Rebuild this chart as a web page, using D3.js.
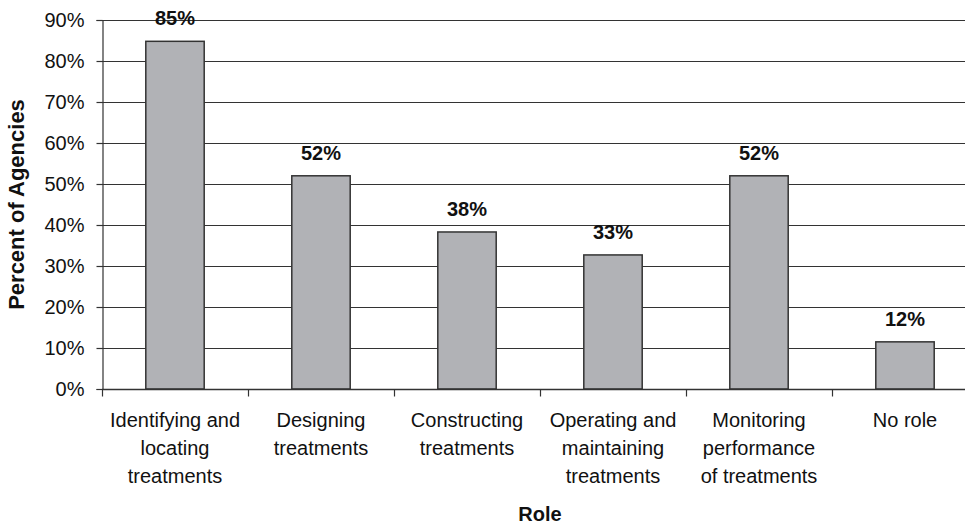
<!DOCTYPE html>
<html><head><meta charset="utf-8">
<script src="https://cdn.jsdelivr.net/npm/d3@7"></script>
<style>body{margin:0;background:#fff}svg{display:block;font-family:"Liberation Sans",Arial,sans-serif}</style>
</head><body><svg id="c" width="965" height="525"></svg>
<script>
const categories = [["Identifying and","locating","treatments"],["Designing","treatments"],["Constructing","treatments"],["Operating and","maintaining","treatments"],["Monitoring","performance","of treatments"],["No role"]];
const values = [0.848, 0.52, 0.383, 0.327, 0.52, 0.115];
const yTicks = [0,0.1,0.2,0.3,0.4,0.5,0.6,0.7,0.8,0.9];

const svg = d3.select("#c");
const L = 102, R = 978, T = 20, B = 389;
const x = d3.scaleBand().domain(d3.range(categories.length)).range([L, R]).paddingInner(0.6).paddingOuter(0.3);
const xb = d3.scaleBand().domain(d3.range(categories.length)).range([L, R]);
const y = d3.scaleLinear().domain([0, 0.9]).range([B, T]);

// gridlines
svg.append("g").selectAll("line").data(yTicks.slice(1)).join("line")
  .attr("x1", L).attr("x2", R).attr("y1", d => y(d)+0.5).attr("y2", d => y(d)+0.5)
  .attr("stroke", "#333").attr("stroke-width", 1.2);

// y axis
const ya = svg.append("g").attr("transform", `translate(${L+0.5},0)`)
  .call(d3.axisLeft(y).tickValues(yTicks).tickFormat(d3.format(".0%")).tickSize(6).tickPadding(12));
ya.select(".domain").attr("stroke", "#333").attr("stroke-width", 1.2);
ya.selectAll(".tick line").attr("stroke", "#333").attr("stroke-width", 1.2);
ya.selectAll("text").attr("font-size", 20).attr("fill", "#111").attr("font-family", "Liberation Sans, Arial, sans-serif");

// bars
svg.append("g").selectAll("rect").data(values).join("rect")
  .attr("x", (d,i) => x(i)).attr("width", x.bandwidth())
  .attr("y", d => y(d)).attr("height", d => B - y(d))
  .attr("fill", "#b1b2b6").attr("stroke", "#333").attr("stroke-width", 1.5);

// x axis
const xa = svg.append("g").attr("transform", `translate(0,${B+0.5})`);
xa.append("line").attr("x1", L).attr("x2", R).attr("stroke", "#333").attr("stroke-width", 1.5);
xa.selectAll(".tk").data(d3.range(categories.length+1)).join("line").attr("class","tk")
  .attr("x1", i => L + i*xb.bandwidth() + 0.5).attr("x2", i => L + i*xb.bandwidth() + 0.5)
  .attr("y1", 0).attr("y2", 7).attr("stroke", "#333").attr("stroke-width", 1.2);

// category labels
svg.append("g").selectAll("text").data(categories).join("text")
  .attr("text-anchor", "middle").attr("font-size", 20).attr("fill", "#111")
  .attr("transform", (d,i) => `translate(${xb(i)+xb.bandwidth()/2},427)`)
  .each(function(d){ d3.select(this).selectAll("tspan").data(d).join("tspan").attr("x",0).attr("dy",(t,j)=> j?28:0).text(t => t); });

// value labels
svg.append("g").selectAll("text").data(values).join("text")
  .attr("x", (d,i) => x(i) + x.bandwidth()/2).attr("y", d => y(d) - 16)
  .attr("text-anchor", "middle").attr("font-size", 20).attr("font-weight", "bold").attr("fill", "#111")
  .text(d => d3.format(".0%")(d));

// axis titles
svg.append("text").attr("x", 540).attr("y", 521).attr("text-anchor", "middle")
  .attr("font-size", 20).attr("font-weight", "bold").attr("fill", "#111").text("Role");
svg.append("text").attr("transform", `translate(24,${(T+B)/2}) rotate(-90)`).attr("text-anchor", "middle")
  .attr("font-size", 22).attr("font-weight", "bold").attr("fill", "#111").text("Percent of Agencies");
</script></body></html>
